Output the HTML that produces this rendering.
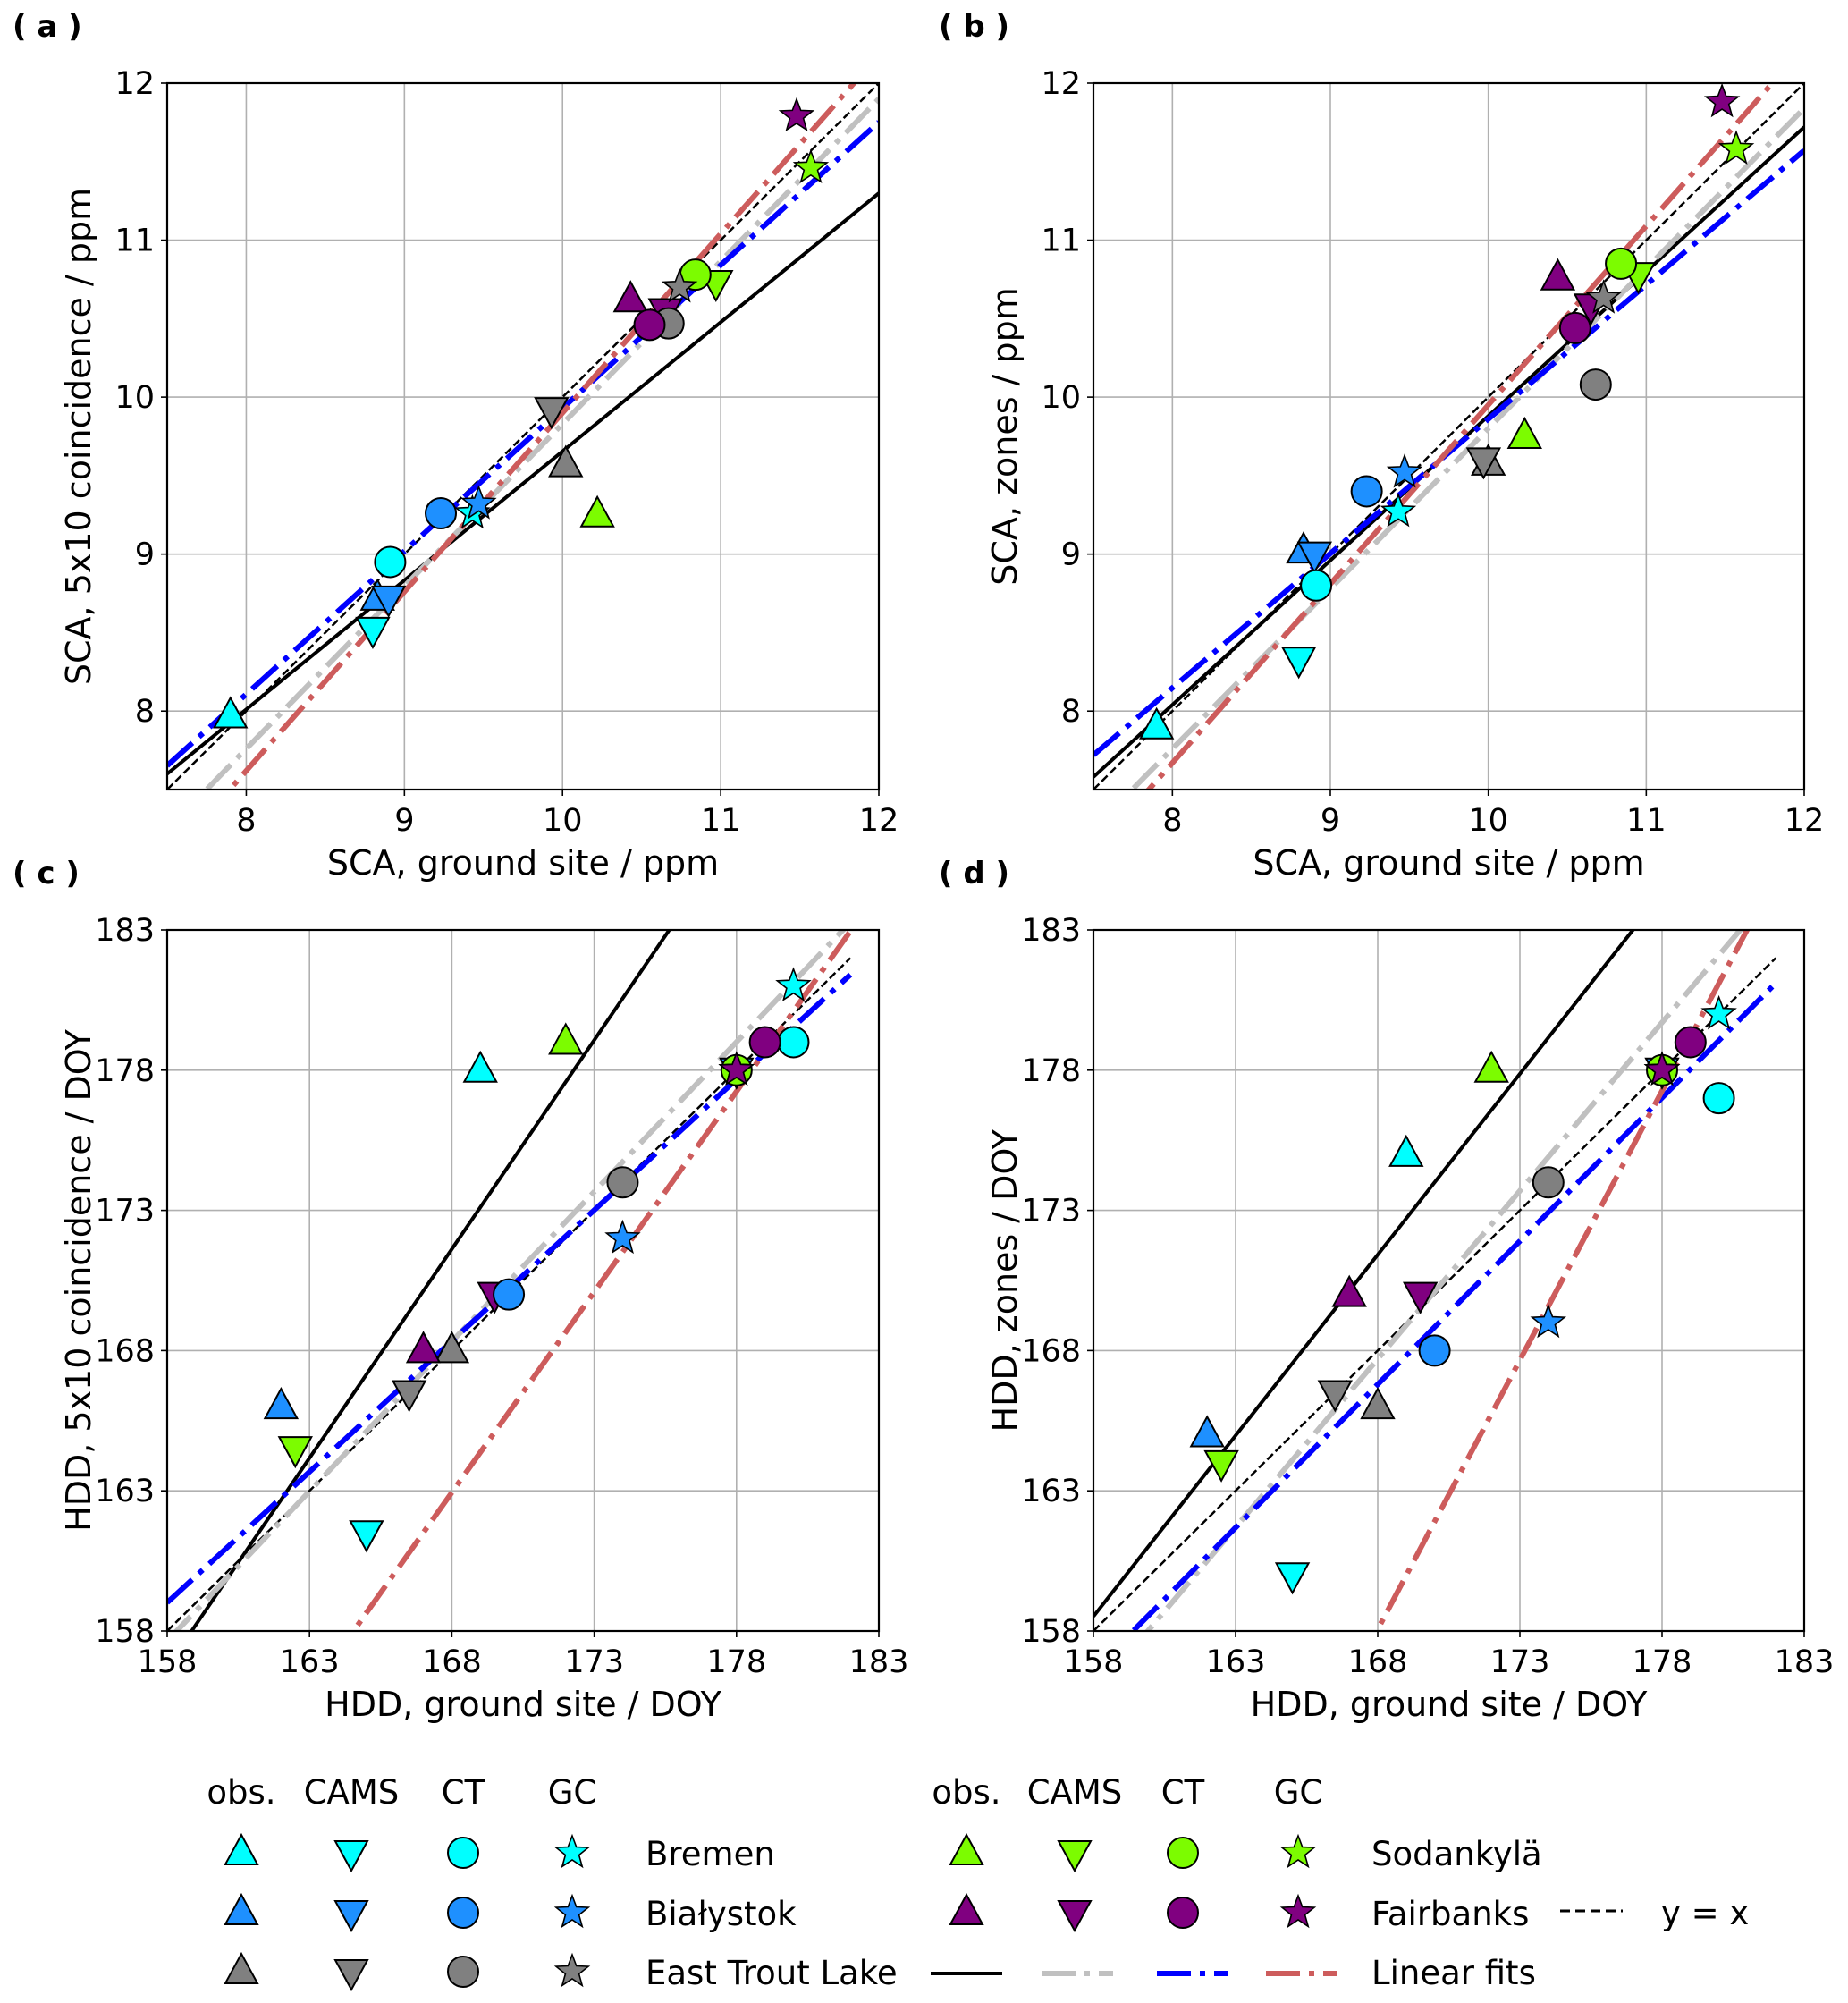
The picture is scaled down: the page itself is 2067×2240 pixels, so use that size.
<!DOCTYPE html>
<html><head><meta charset="utf-8"><style>
html,body{margin:0;padding:0;background:#fff;overflow:hidden;}
svg{display:block;font-family:"DejaVu Sans","Liberation Sans",sans-serif;}
</style></head><body>
<svg id="fig" width="2067" height="2240" viewBox="0 0 2067 2240" xmlns="http://www.w3.org/2000/svg"></svg>
<script>
// ---- data ----
const siteNames = ["Bremen","Białystok","East Trout Lake","Sodankylä","Fairbanks"];
const siteColors = ["#00ffff","#1e90ff","#808080","#7cfc00","#800080"];
// Panel a: SCA 5x10 coincidence
const aObsX=[7.9,8.83,10.02,10.22,10.43], aObsY=[7.97,8.72,9.57,9.25,10.62];
const aCamsX=[8.8,8.9,9.93,10.97,10.65], aCamsY=[8.52,8.72,9.92,10.73,10.55];
const aCtX=[8.91,9.23,10.67,10.84,10.55], aCtY=[8.95,9.26,10.47,10.78,10.46];
const aGcX=[9.43,9.47,10.74,11.57,11.48], aGcY=[9.26,9.32,10.7,11.46,11.79];
const aFitSlope=[0.822,1.035,0.911,1.14], aFitIntercept=[1.435,-0.52,0.82,-1.5];
// Panel b: SCA zones
const bObsX=[7.9,8.83,10.0,10.23,10.44], bObsY=[7.9,9.02,9.58,9.75,10.76];
const bCamsX=[8.8,8.9,9.97,10.95,10.65], bCamsY=[8.33,9.0,9.6,10.78,10.58];
const bCtX=[8.91,9.23,10.68,10.84,10.55], bCtY=[8.8,9.4,10.08,10.85,10.44];
const bGcX=[9.43,9.47,10.73,11.57,11.48], bGcY=[9.27,9.52,10.63,11.58,11.88];
const bFitSlope=[0.92,1.02,0.856,1.14], bFitIntercept=[0.68,-0.4,1.3,-1.45];
// Panel c: HDD 5x10 coincidence
const cObsX=[169,162,168,172,167], cObsY=[178,166,168,179,168];
const cCamsX=[165,178,166.5,162.5,169.5], cCamsY=[161.5,178,166.5,164.5,170];
const cCtX=[180,170,174,178,179], cCtY=[179,170,174,178,179];
const cGcX=[180,174,178,178,178], cGcY=[181,172,178,178,178];
const cFitSlope=[1.49,1.068,0.933,1.43], cFitIntercept=[-78.7,-11.1,11.6,-77.3];
// Panel d: HDD zones
const dObsX=[169,162,168,172,167], dObsY=[175,165,166,178,170];
const dCamsX=[165,178,166.5,162.5,169.5], dCamsY=[160,178,166.5,164,170];
const dCtX=[180,170,174,178,179], dCtY=[177,168,174,178,179];
const dGcX=[180,174,178,178,178], dGcY=[180,169,178,178,178];
const dFitSlope=[1.29,1.2,1.022,1.92], dFitIntercept=[-45.3,-33.9,-4.9,-164.5];
const scaTicks=[8,9,10,11,12];
const hddTicks=[158,163,168,173,178,183];

// ---- drawing ----
const NS="http://www.w3.org/2000/svg";
const svg=document.getElementById('fig');
function mk(tag,attrs,parent){const e=document.createElementNS(NS,tag);for(const k in attrs)e.setAttribute(k,attrs[k]);(parent||svg).appendChild(e);return e;}
const fitStyles=[
 {c:"#000000",w:4,d:""},
 {c:"#c0c0c0",w:6,d:"38,10,6,10"},
 {c:"#0000ff",w:6,d:"38,10,6,10"},
 {c:"#cd5c5c",w:6,d:"38,10,6,10"}];
const fitNames=["fit-obs","fit-cams","fit-ct","fit-gc"];
function marker(g,type,cx,cy,color,name){
  let e;const r=17;
  if(type==="circle"){e=mk('circle',{cx:cx,cy:cy,r:r,fill:color,stroke:"#000","stroke-width":2},g);}
  else if(type==="up"){e=mk('polygon',{points:`${cx},${cy-r-3} ${cx-r-1},${cy+r-4} ${cx+r+1},${cy+r-4}`,fill:color,stroke:"#000","stroke-width":2},g);}
  else if(type==="down"){e=mk('polygon',{points:`${cx},${cy+r+3} ${cx-r-1},${cy-r+4} ${cx+r+1},${cy-r+4}`,fill:color,stroke:"#000","stroke-width":2},g);}
  else {let p=[];for(let i=0;i<10;i++){const a=-Math.PI/2+i*Math.PI/5;const rr=i%2?8:19;p.push((cx+rr*Math.cos(a)).toFixed(1)+","+(cy+rr*Math.sin(a)).toFixed(1));}
    e=mk('polygon',{points:p.join(" "),fill:color,stroke:"#000","stroke-width":1.6},g);}
  
  
  return e;
}
function panel(id,L,R,T,B,xmin,xmax,ticks,xlabel,ylabel,letter,sets,slopes,ints,yxEnd,fitEnd){
  const g=mk('g',{});
  
  
  const sx=v=>L+(v-xmin)/(xmax-xmin)*(R-L);
  const sy=v=>B-(v-xmin)/(xmax-xmin)*(B-T);
  const clip=mk('clipPath',{id:'clip'+id},g);mk('rect',{x:L,y:T,width:R-L,height:B-T},clip);
  ticks.forEach(t=>{
    const gx=mk('line',{x1:sx(t),x2:sx(t),y1:T,y2:B,stroke:"#b0b0b0","stroke-width":1.6},g);
    
    const gy=mk('line',{x1:L,x2:R,y1:sy(t),y2:sy(t),stroke:"#b0b0b0","stroke-width":1.6},g);
    
    mk('line',{x1:sx(t),x2:sx(t),y1:B,y2:B+7,stroke:"#000","stroke-width":1.6},g);
    mk('line',{x1:L-7,x2:L,y1:sy(t),y2:sy(t),stroke:"#000","stroke-width":1.6},g);
    const tx=mk('text',{x:sx(t),y:B+46,"text-anchor":"middle","font-size":35},g);tx.textContent=t;
    
    const ty=mk('text',{x:L-14,y:sy(t)+12,"text-anchor":"end","font-size":35},g);ty.textContent=t;
    
  });
  const lg=mk('g',{"clip-path":`url(#clip${id})`},g);
  const yx=mk('line',{x1:sx(xmin),y1:sy(xmin),x2:sx(yxEnd),y2:sy(yxEnd),stroke:"#000","stroke-width":2.5,"stroke-dasharray":"9,4"},lg);
  
  for(let i=0;i<4;i++){
    const x0=xmin,x1=fitEnd;
    const l=mk('line',{x1:sx(x0),y1:sy(slopes[i]*x0+ints[i]),x2:sx(x1),y2:sy(slopes[i]*x1+ints[i]),stroke:fitStyles[i].c,"stroke-width":fitStyles[i].w},lg);
    if(fitStyles[i].d)l.setAttribute('stroke-dasharray',fitStyles[i].d);
    
  }
  const types=["up","down","circle","star"],tn=["obs","cams","ct","gc"];
  sets.forEach((s,k)=>{
    for(let j=0;j<s[0].length;j++){
      marker(lg,types[k],sx(s[0][j]),sy(s[1][j]),siteColors[j],tn[k]+'-point');
    }
  });
  mk('rect',{x:L,y:T,width:R-L,height:B-T,fill:"none",stroke:"#000","stroke-width":2.2},g);
  const xl=mk('text',{x:(L+R)/2,y:B+95,"text-anchor":"middle","font-size":38},g);xl.textContent=xlabel;
  
  const yl=mk('text',{x:0,y:0,"text-anchor":"middle","font-size":38,transform:`translate(${L-86},${(T+B)/2}) rotate(-90)`},g);yl.textContent=ylabel;
  
  const pl=mk('text',{x:L-173,y:T-52,"font-size":34,"font-weight":"bold"},g);pl.textContent=`( ${letter} )`;
  
}
panel('a',187,983,93,883,7.5,12,scaTicks,"SCA, ground site / ppm","SCA, 5x10 coincidence / ppm","a",
  [[aObsX,aObsY],[aCamsX,aCamsY],[aCtX,aCtY],[aGcX,aGcY]],aFitSlope,aFitIntercept,12,12);
panel('b',1223,2018,93,883,7.5,12,scaTicks,"SCA, ground site / ppm","SCA, zones / ppm","b",
  [[bObsX,bObsY],[bCamsX,bCamsY],[bCtX,bCtY],[bGcX,bGcY]],bFitSlope,bFitIntercept,12,12);
panel('c',187,983,1040,1824,158,183,hddTicks,"HDD, ground site / DOY","HDD, 5x10 coincidence / DOY","c",
  [[cObsX,cObsY],[cCamsX,cCamsY],[cCtX,cCtY],[cGcX,cGcY]],cFitSlope,cFitIntercept,182,182);
panel('d',1223,2018,1040,1824,158,183,hddTicks,"HDD, ground site / DOY","HDD, zones / DOY","d",
  [[dObsX,dObsY],[dCamsX,dCamsY],[dCtX,dCtY],[dGcX,dGcY]],dFitSlope,dFitIntercept,182,182);

// ---- legend ----
const lg=mk('g',{});


const heads=["obs.","CAMS","CT","GC"],types=["up","down","circle","star"];
const colL=[270,393,518,640],colR=[1081,1202,1323,1452];
const rowY=[2072,2139,2205];
function ltext(x,y,t,anchor,name){const e=mk('text',{x:x,y:y,"font-size":37,"text-anchor":anchor||"middle"},lg);e.textContent=t;
  return e;}
heads.forEach((h,i)=>{ltext(colL[i],2017,h,"middle","legend-header");ltext(colR[i],2017,h,"middle","legend-header");});
for(let s=0;s<5;s++){
  const right=s>=3,row=right?s-3:s,cols=right?colR:colL;
  for(let k=0;k<4;k++)marker(lg,types[k],cols[k],rowY[row],siteColors[s],'legend-marker');
  const t=ltext(right?1534:722,rowY[row]+14,siteNames[s],"start","legend-entry");
  
}
const yxl=mk('line',{x1:1745,x2:1815,y1:2137,y2:2137,stroke:"#000","stroke-width":3,"stroke-dasharray":"11,6"},lg);

ltext(1858,2152,"y = x","start","legend-entry");
const lfx=[1041,1165,1294,1416];
for(let i=0;i<4;i++){
  const l=mk('line',{x1:lfx[i],x2:lfx[i]+80,y1:2207,y2:2207,stroke:fitStyles[i].c,"stroke-width":fitStyles[i].w},lg);
  if(fitStyles[i].d)l.setAttribute('stroke-dasharray',fitStyles[i].d);
  
}
ltext(1534,2219,"Linear fits","start","legend-entry");
</script>
</body></html>
